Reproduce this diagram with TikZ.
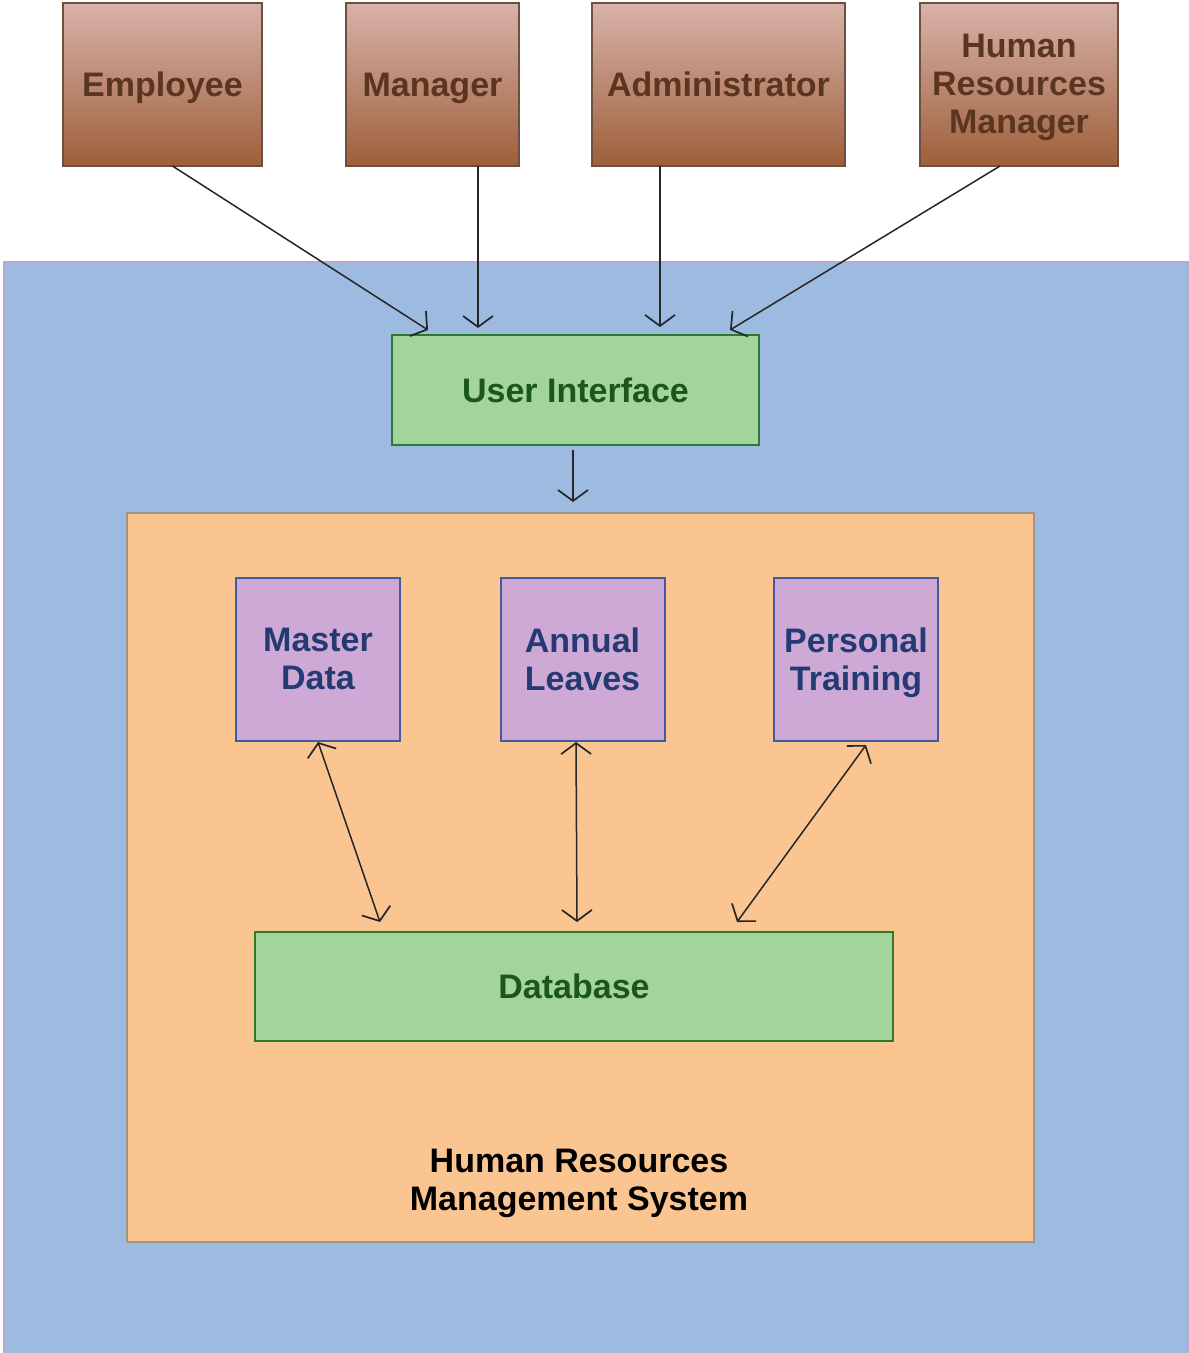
\documentclass[tikz,border=0pt]{standalone}
\usepackage{fontspec}
\setmainfont{Liberation Sans}
\usetikzlibrary{arrows.meta}
\definecolor{bgblue}{HTML}{9DBBE1}
\definecolor{bgblueb}{HTML}{B6A9CC}
\definecolor{orangef}{HTML}{FAC590}
\definecolor{orangeb}{HTML}{A09585}
\definecolor{browntop}{HTML}{D8B3AA}
\definecolor{brownbot}{HTML}{9E5F3A}
\definecolor{brownb}{HTML}{6E5040}
\definecolor{browntx}{HTML}{5A3520}
\definecolor{greenf}{HTML}{A3D49C}
\definecolor{greenb}{HTML}{2C7A2C}
\definecolor{greentx}{HTML}{1B561B}
\definecolor{purplef}{HTML}{CFA9D5}
\definecolor{purpleb}{HTML}{3E5C9E}
\definecolor{purpletx}{HTML}{243A72}
\tikzset{
  lbl/.style={font=\fontsize{34}{38}\selectfont\bfseries, align=center, outer sep=0pt, inner sep=0pt, text depth=1pt},
  oneline/.style={text height=31pt, text depth=7pt},
  actor/.style={lbl, draw=brownb, line width=2.5pt, top color=browntop, bottom color=brownbot, text=browntx, minimum height=163pt},
  greenbox/.style={lbl, oneline, draw=greenb, line width=2.5pt, fill=greenf, text=greentx},
  module/.style={lbl, draw=purpleb, line width=2pt, fill=purplef, text=purpletx, minimum width=164pt, minimum height=163pt},
  conn/.style={draw=black!85, line width=1.5pt, -{Straight Barb[length=11pt,width=30pt,line width=1.7pt]}},
  dconn/.style={draw=black!85, line width=1.5pt, {Straight Barb[length=11pt,width=30pt,line width=1.7pt]}-{Straight Barb[length=11pt,width=30pt,line width=1.7pt]}}
}
\begin{document}
\begin{tikzpicture}[x=1pt,y=-1pt]
\useasboundingbox (0,0) rectangle (1189,1353);
\fill[white] (0,0) rectangle (1189,1353);
% system background
\node[draw=bgblueb, line width=2pt, fill=bgblue, minimum width=1185pt, minimum height=1092pt, inner sep=0pt, outer sep=0pt] (sys) at (596.5,808) {};
% HRMS box
\node[draw=orangeb, line width=2pt, fill=orangef, minimum width=907pt, minimum height=729pt, inner sep=0pt, outer sep=0pt] (hrms) at (580.5,877.5) {};
% actors
\node[actor, oneline, minimum width=199pt] (emp) at (162.5,84.5) {Employee};
\node[actor, oneline, minimum width=173pt] (mgr) at (432.5,84.5) {Manager};
\node[actor, oneline, minimum width=253pt] (adm) at (718.5,84.5) {Administrator};
\node[actor, minimum width=198pt] (hrm) at (1019,84.5) {Human\\Resources\\Manager};
% user interface
\node[greenbox, minimum width=367pt, minimum height=110pt] (ui) at (575.5,390) {User Interface};
% modules
\node[module] (md) at (318,659.5) {Master\\Data};
\node[module] (al) at (582.5,659.5) {Annual\\Leaves};
\node[module] (pt) at (856,659.5) {Personal\\Training};
% database
\node[greenbox, minimum width=638pt, minimum height=109pt] (db) at (574,986.5) {Database};
% label
\node[lbl, text=black] (lab) at (579,1180) {Human Resources\\Management System};
% connectors
\draw[conn] ([xshift=10pt]emp.south) -- ([xshift=36pt,yshift=5pt]ui.north west);
\draw[conn] ([xshift=45.5pt]mgr.south) -- ([xshift=86pt,yshift=7pt]ui.north west);
\draw[conn] ([xshift=-58.5pt]adm.south) -- ([xshift=268pt,yshift=8pt]ui.north west);
\draw[conn] ([xshift=-19pt]hrm.south) -- ([xshift=-29pt,yshift=5pt]ui.north east);
\draw[conn] ([xshift=-2.5pt,yshift=-5pt]ui.south) -- ([xshift=-7.5pt,yshift=11pt]hrms.north);
\draw[dconn] ([yshift=-1pt]md.south) -- ([xshift=125pt,yshift=10pt]db.north west);
\draw[dconn] ([xshift=-6.5pt,yshift=-1pt]al.south) -- ([xshift=322pt,yshift=10pt]db.north west);
\draw[dconn] ([xshift=10pt,yshift=-4pt]pt.south) -- ([xshift=482pt,yshift=10pt]db.north west);
\end{tikzpicture}
\end{document}
